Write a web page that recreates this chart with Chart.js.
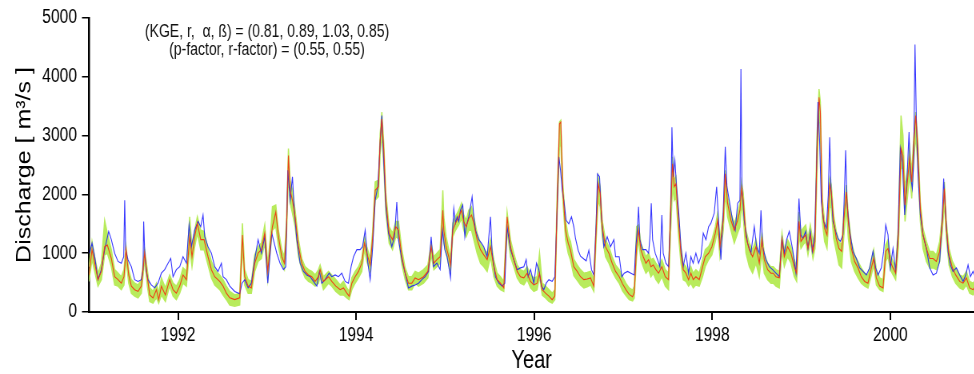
<!DOCTYPE html>
<html>
<head>
<meta charset="utf-8">
<script src="https://cdn.jsdelivr.net/npm/chart.js@4.4.1/dist/chart.umd.min.js"></script>
<style>
  html, body { margin: 0; padding: 0; background: #fff; }
  #wrap { width: 974px; height: 374px; overflow: hidden; }
  /* the original figure is horizontally compressed, so draw wide and squeeze */
  #flow-chart { transform: scaleX(0.8); transform-origin: 0 0; }
</style>
</head>
<body>
<div id="wrap"><canvas id="flow-chart" width="1218" height="374"></canvas></div>
<script>
// observed discharge (decimal year, m3/s)
let obsYears = [
  1991.007,1991.034,1991.064,1991.101,1991.139,1991.176,1991.221,1991.251,1991.288,1991.326,
  1991.363,1991.390,1991.401,1991.412,1991.438,1991.476,1991.513,1991.551,1991.588,1991.607,
  1991.614,1991.625,1991.644,1991.663,1991.700,1991.738,1991.775,1991.813,1991.850,1991.888,
  1991.918,1991.944,1991.981,1992.019,1992.056,1992.094,1992.124,1992.150,1992.187,1992.225,
  1992.255,1992.281,1992.300,1992.337,1992.375,1992.412,1992.449,1992.487,1992.506,1992.543,
  1992.581,1992.637,1992.693,1992.719,1992.749,1992.787,1992.824,1992.861,1992.899,1992.936,
  1992.974,1993.008,1993.053,1993.109,1993.146,1993.184,1993.210,1993.233,1993.259,1993.285,
  1993.308,1993.334,1993.371,1993.409,1993.446,1993.484,1993.521,1993.559,1993.588,1993.615,
  1993.652,1993.697,1993.727,1993.765,1993.802,1993.839,1993.877,1993.914,1993.944,1993.971,
  1994.008,1994.045,1994.072,1994.102,1994.132,1994.158,1994.184,1994.214,1994.244,1994.270,
  1994.289,1994.308,1994.334,1994.364,1994.401,1994.431,1994.457,1994.476,1994.514,1994.551,
  1994.588,1994.626,1994.663,1994.701,1994.738,1994.776,1994.813,1994.843,1994.869,1994.907,
  1994.944,1994.970,1994.996,1995.022,1995.041,1995.060,1995.078,1995.097,1995.116,1995.135,
  1995.153,1995.172,1995.198,1995.221,1995.236,1995.266,1995.303,1995.322,1995.341,1995.378,
  1995.408,1995.434,1995.472,1995.509,1995.528,1995.565,1995.603,1995.640,1995.670,1995.696,
  1995.734,1995.771,1995.809,1995.846,1995.884,1995.910,1995.932,1995.959,1995.996,1996.026,
  1996.052,1996.082,1996.108,1996.135,1996.165,1996.202,1996.232,1996.258,1996.277,1996.296,
  1996.315,1996.333,1996.359,1996.389,1996.419,1996.445,1996.464,1996.494,1996.520,1996.558,
  1996.584,1996.614,1996.644,1996.670,1996.696,1996.711,1996.734,1996.756,1996.782,1996.820,
  1996.857,1996.895,1996.914,1996.955,1996.985,1997.011,1997.049,1997.086,1997.124,1997.142,
  1997.161,1997.172,1997.187,1997.217,1997.255,1997.285,1997.300,1997.315,1997.330,1997.359,
  1997.386,1997.412,1997.434,1997.449,1997.479,1997.509,1997.535,1997.547,1997.562,1997.580,
  1997.599,1997.622,1997.648,1997.674,1997.704,1997.734,1997.760,1997.786,1997.816,1997.846,
  1997.873,1997.899,1997.929,1997.959,1997.985,1998.022,1998.049,1998.071,1998.097,1998.124,
  1998.146,1998.165,1998.191,1998.228,1998.258,1998.285,1998.311,1998.322,1998.333,1998.359,
  1998.397,1998.434,1998.472,1998.498,1998.528,1998.547,1998.566,1998.603,1998.641,1998.678,
  1998.715,1998.753,1998.783,1998.809,1998.835,1998.865,1998.903,1998.940,1998.974,1998.996,
  1999.019,1999.049,1999.075,1999.101,1999.124,1999.150,1999.169,1999.187,1999.206,1999.225,
  1999.251,1999.281,1999.303,1999.319,1999.334,1999.356,1999.386,1999.412,1999.438,1999.468,
  1999.487,1999.498,1999.513,1999.543,1999.581,1999.618,1999.656,1999.693,1999.731,1999.768,
  1999.805,1999.835,1999.862,1999.899,1999.925,1999.948,1999.974,2000.000,2000.030,2000.060,
  2000.086,2000.112,2000.135,2000.161,2000.187,2000.210,2000.225,2000.247,2000.262,2000.277,
  2000.292,2000.311,2000.337,2000.367,2000.405,2000.442,2000.480,2000.517,2000.554,2000.581,
  2000.599,2000.622,2000.648,2000.674,2000.704,2000.742,2000.779,2000.817,2000.847,2000.873,
  2000.899,2000.929,2000.950
];
let obsQ = [
  1000,1170,940,550,720,1060,1370,1230,1000,860,
  830,940,1900,1060,890,770,550,520,550,720,
  1540,1060,690,550,460,410,490,660,720,830,
  910,600,720,770,940,830,1480,1110,1390,1540,
  1450,1650,1280,1110,1000,770,690,830,600,550,
  440,350,310,490,550,410,490,890,1230,1000,
  1280,490,1340,1000,830,720,770,2410,1900,2300,
  1680,1230,830,690,630,600,520,440,690,490,
  550,660,600,630,600,660,520,490,770,940,
  1060,1060,1110,1390,830,550,1060,1900,2130,2860,
  3340,2640,1790,1340,1110,1280,1870,1230,890,660,
  410,440,460,490,550,600,690,1280,770,830,
  720,1390,1060,940,770,580,1230,1760,1510,1620,
  1540,1730,1820,1280,1450,1620,1960,1620,1390,1230,
  1170,1110,940,1620,1000,600,490,440,490,1450,
  1060,890,720,750,770,890,600,720,490,830,
  720,440,380,490,550,520,600,1730,2640,2410,
  2070,1900,1560,1500,1620,1450,1250,1050,950,900,
  870,1050,720,630,1510,2350,2300,1620,1110,1280,
  1110,1230,940,940,600,660,690,660,630,1110,
  1450,1790,1230,1060,1060,1000,1280,1850,1230,1000,
  890,770,1650,1000,830,770,1730,3140,2300,2580,
  2130,1730,1110,770,1000,660,940,830,1000,830,
  940,1340,1230,1450,1510,1680,2130,1560,890,1730,
  2810,2130,1900,1560,1390,1850,1900,4130,2130,1560,
  1170,1000,1450,1110,1000,1730,1110,890,770,720,
  660,600,1250,1000,1230,1370,1060,660,1930,1310,
  1250,1370,1080,1370,1030,1310,2330,3570,2890,1870,
  1540,1420,1990,2970,2100,1540,1370,1250,1200,1310,
  2160,2750,1870,1370,1030,910,750,690,630,750,
  1030,750,630,750,1030,1480,1310,750,1080,690,
  1310,2780,2550,1650,2270,3060,2330,2100,2550,4550,
  3280,2330,1650,1310,1080,750,630,660,860,1540,
  2270,1650,1030,800,690,750,630,520,630,800,
  600,690,620
];

// simulated best run and 95PPU band (decimal year, m3/s)
let simYears = [
  1991.000,1991.034,1991.064,1991.101,1991.139,1991.176,1991.206,1991.251,1991.288,1991.326,
  1991.363,1991.393,1991.416,1991.446,1991.476,1991.513,1991.551,1991.588,1991.625,1991.655,
  1991.682,1991.719,1991.757,1991.783,1991.813,1991.858,1991.906,1991.944,1991.981,1992.019,
  1992.056,1992.094,1992.131,1992.157,1992.187,1992.217,1992.255,1992.292,1992.337,1992.375,
  1992.412,1992.468,1992.506,1992.543,1992.581,1992.637,1992.693,1992.723,1992.749,1992.787,
  1992.824,1992.861,1992.899,1992.936,1992.974,1993.008,1993.034,1993.060,1993.098,1993.128,
  1993.165,1993.195,1993.218,1993.240,1993.259,1993.285,1993.315,1993.353,1993.390,1993.427,
  1993.465,1993.502,1993.540,1993.577,1993.596,1993.633,1993.690,1993.727,1993.772,1993.821,
  1993.858,1993.896,1993.922,1993.952,1993.989,1994.027,1994.064,1994.094,1994.120,1994.158,
  1994.184,1994.214,1994.251,1994.270,1994.289,1994.311,1994.334,1994.371,1994.409,1994.446,
  1994.476,1994.514,1994.551,1994.588,1994.626,1994.663,1994.701,1994.757,1994.806,1994.843,
  1994.873,1994.907,1994.944,1994.974,1994.985,1995.011,1995.041,1995.060,1995.086,1995.116,
  1995.153,1995.183,1995.209,1995.236,1995.266,1995.296,1995.322,1995.359,1995.397,1995.434,
  1995.472,1995.509,1995.547,1995.584,1995.621,1995.659,1995.696,1995.734,1995.771,1995.809,
  1995.846,1995.884,1995.921,1995.959,1995.996,1996.033,1996.060,1996.090,1996.127,1996.165,
  1996.202,1996.232,1996.258,1996.284,1996.299,1996.322,1996.352,1996.382,1996.408,1996.445,
  1996.483,1996.520,1996.558,1996.595,1996.633,1996.670,1996.696,1996.719,1996.741,1996.764,
  1996.801,1996.839,1996.876,1996.914,1996.955,1996.992,1997.030,1997.067,1997.105,1997.124,
  1997.150,1997.172,1997.198,1997.225,1997.255,1997.285,1997.311,1997.337,1997.367,1997.397,
  1997.434,1997.472,1997.509,1997.532,1997.554,1997.573,1997.592,1997.622,1997.648,1997.674,
  1997.704,1997.734,1997.760,1997.786,1997.816,1997.854,1997.891,1997.921,1997.959,1997.996,
  1998.034,1998.060,1998.086,1998.124,1998.146,1998.172,1998.210,1998.247,1998.285,1998.311,
  1998.330,1998.348,1998.378,1998.416,1998.453,1998.491,1998.528,1998.558,1998.584,1998.622,
  1998.659,1998.685,1998.715,1998.753,1998.783,1998.809,1998.846,1998.884,1998.921,1998.948,
  1998.974,1998.996,1999.019,1999.049,1999.075,1999.101,1999.131,1999.154,1999.176,1999.199,
  1999.214,1999.236,1999.262,1999.289,1999.319,1999.337,1999.363,1999.393,1999.423,1999.453,
  1999.476,1999.506,1999.528,1999.562,1999.599,1999.637,1999.674,1999.712,1999.749,1999.787,
  1999.813,1999.843,1999.880,1999.918,1999.948,1999.974,2000.000,2000.030,2000.060,2000.090,
  2000.120,2000.142,2000.165,2000.195,2000.217,2000.240,2000.262,2000.285,2000.307,2000.337,
  2000.367,2000.405,2000.442,2000.480,2000.517,2000.554,2000.584,2000.607,2000.629,2000.659,
  2000.697,2000.734,2000.779,2000.817,2000.854,2000.891,2000.929,2000.950
];
let simQ = [
  630,1060,830,550,690,1110,1140,910,600,550,
  490,600,1060,630,440,380,350,440,1000,600,
  290,240,380,210,440,290,550,380,320,440,
  630,550,1280,940,1280,1510,1230,1230,940,720,
  600,520,440,320,240,210,240,1310,600,440,
  410,830,1000,1060,1340,690,1110,1450,1700,1280,
  940,830,1390,2660,2070,1900,1620,1110,830,690,
  630,600,520,600,720,520,600,520,440,380,
  410,320,270,490,600,690,830,1170,1000,800,
  1230,2070,2130,2920,3280,2750,1900,1340,1230,1450,
  1390,940,660,490,490,580,550,600,690,1110,
  830,890,940,1730,1390,1110,940,800,1390,1510,
  1620,1730,1540,1450,1590,1650,1510,1230,1060,970,
  890,1110,770,550,490,410,1620,1110,890,690,
  600,580,660,520,460,490,660,380,320,270,
  210,270,1850,3200,3230,2070,1390,1170,1050,770,
  690,600,550,560,580,440,1390,2180,2020,1450,
  1110,1000,830,690,600,480,380,300,260,330,
  1110,1390,1060,940,830,890,770,800,720,660,
  770,600,550,1730,2520,2130,2180,1510,1000,720,
  660,550,660,550,600,550,770,940,1000,1110,
  1340,1560,1110,1560,2350,1850,1560,1390,1560,1730,
  2100,1900,1280,1060,940,1110,830,1230,890,720,
  660,660,600,580,1230,940,1110,1000,770,660,
  1540,1200,1250,1310,1080,1310,1030,1200,2720,3650,
  3400,1760,1420,1310,2160,2040,1540,1250,1080,1030,
  1540,2040,1540,1080,860,750,600,520,490,750,
  910,580,440,410,1030,1080,860,750,660,1310,
  2780,2660,1820,2270,2610,2210,2830,3340,2830,1760,
  1310,1080,910,910,860,1030,1540,2100,1420,970,
  750,630,520,490,580,410,380,420
];
let upperQ = [
  770,1200,940,660,830,1560,1340,1060,720,660,
  600,720,1110,720,550,490,460,550,1060,720,
  410,350,490,320,580,410,630,490,440,550,
  750,690,1620,1110,1390,1620,1390,1370,1080,860,
  720,630,550,440,350,290,320,1510,720,550,
  520,970,1110,1170,1480,800,1230,1790,1820,1390,
  1060,940,1560,2780,2240,2070,1730,1230,910,770,
  720,690,630,720,800,600,690,630,550,460,
  520,410,350,580,690,770,910,1280,1110,910,
  1340,2210,2240,3030,3400,2860,2020,1450,1340,1540,
  1540,1060,750,600,600,690,660,720,800,1170,
  940,1000,1060,2070,1620,1280,1060,910,1510,1620,
  1730,1850,1650,1560,1730,1790,1620,1340,1170,1080,
  1000,1230,890,660,600,520,1700,1230,1000,800,
  720,690,770,630,580,600,1000,490,440,380,
  320,380,2020,3230,3260,2180,1560,1300,1200,900,
  800,720,660,670,690,550,1510,2300,2130,1560,
  1230,1110,940,800,720,600,490,410,370,440,
  1450,1480,1170,1060,940,1000,890,910,830,770,
  890,720,660,1850,2640,2240,2300,1620,1110,830,
  770,660,770,660,720,660,890,1060,1110,1230,
  1450,1680,1230,1680,2410,1960,1680,1510,1680,1850,
  2210,2020,1390,1170,1060,1230,940,1340,1000,830,
  770,770,720,690,1340,1060,1230,1110,890,770,
  1700,1370,1420,1480,1250,1480,1200,1370,3000,3790,
  3570,1930,1540,1420,2270,2160,1650,1370,1200,1140,
  1650,2160,1650,1200,970,860,750,660,630,890,
  1060,720,580,550,1140,1230,970,860,770,1480,
  3340,3000,2100,2440,2780,2380,2950,3400,2950,1870,
  1420,1200,1030,1030,970,1200,1650,2210,1540,1080,
  860,750,630,600,690,520,490,530
];
let lowerQ = [
  520,890,690,440,550,970,1000,770,460,440,
  380,460,890,490,320,270,240,320,890,440,
  180,150,240,150,290,180,440,270,210,320,
  490,440,1080,770,1110,1340,1060,1060,800,580,
  460,380,290,210,120,100,120,1110,460,320,
  320,690,860,910,1170,550,1000,1390,1450,1110,
  830,720,1280,2350,1850,1680,1450,940,720,580,
  520,490,440,490,600,380,490,440,350,290,
  290,240,210,380,490,580,690,1060,860,690,
  1110,1900,1960,2690,3030,2470,1680,1170,1060,1280,
  1250,800,550,380,380,490,440,490,580,970,
  720,770,830,1620,1170,1000,800,690,1280,1390,
  1480,1590,1390,1280,1390,1390,1230,1000,830,770,
  690,940,600,440,380,350,1390,940,770,580,
  490,460,550,410,350,380,600,290,240,180,
  150,210,1620,2810,2860,1900,1230,1000,880,620,
  540,460,410,430,460,350,1230,1900,1790,1280,
  940,830,690,580,490,360,280,210,190,240,
  940,1230,890,770,660,720,600,660,550,490,
  600,440,380,1340,2130,1900,1960,1280,830,550,
  520,440,490,410,460,440,600,770,890,970,
  1200,1390,940,1390,2020,1620,1390,1170,1340,1450,
  1850,1620,1000,770,660,830,600,1000,660,550,
  490,490,440,410,1030,770,940,830,600,520,
  1310,1080,1140,1200,970,1200,910,1080,2330,3400,
  3120,1540,1200,1080,1820,1760,1250,1030,800,750,
  1250,1760,1250,860,690,580,490,440,410,630,
  800,460,380,350,860,940,720,630,550,1080,
  2440,2440,1540,1990,2330,1930,2550,3000,2550,1540,
  1080,860,750,750,720,860,1370,1870,1250,800,
  600,490,410,380,460,320,290,320
];

let tickYears = [1992, 1994, 1996, 1998, 2000];
let statsLines = [
  "(KGE, r,  \u03b1, \u00df) = (0.81, 0.89, 1.03, 0.85)",
  "(p-factor, r-factor) = (0.55, 0.55)"
];

let flowCtx = document.getElementById("flow-chart");

const plainFont = "'Liberation Sans', Arial, sans-serif";
const bandColor = '#B8EB5C';

toPoints = (xs, ys) => xs.map((x, i) => ({x: x, y: ys[i]}));

// draws the two fit statistic lines near the top left
const statsLabel = {
  id: 'statsLabel',
  afterDraw(chart) {
    const c = chart.ctx;
    const xs = chart.scales.x, ys = chart.scales.y;
    c.save();
    c.font = "17.5px " + plainFont;
    c.fillStyle = '#111';
    c.textAlign = 'center';
    c.textBaseline = 'middle';
    c.fillText(statsLines[0], xs.getPixelForValue(1993.0), ys.getPixelForValue(4750));
    c.fillText(statsLines[1], xs.getPixelForValue(1993.0), ys.getPixelForValue(4460));
    c.restore();
  }
};

let flowCfg = {
  type: 'line',
  data: {
    datasets: [
      {
        label: "95PPU lower",
        data: toPoints(simYears, lowerQ),
        borderColor: bandColor,
        borderWidth: 1.5,
        pointRadius: 0,
        fill: false,
        order: 3
      },
      {
        label: "95PPU upper",
        data: toPoints(simYears, upperQ),
        borderColor: bandColor,
        backgroundColor: bandColor,
        borderWidth: 1.5,
        pointRadius: 0,
        fill: 0,
        order: 2
      },
      {
        label: "Observed",
        data: toPoints(obsYears, obsQ),
        borderColor: 'rgba(20,20,255,0.85)',
        borderWidth: 1.1,
        pointRadius: 0,
        fill: false,
        order: 1
      },
      {
        label: "Simulated",
        data: toPoints(simYears, simQ),
        borderColor: 'rgba(245,45,15,0.9)',
        borderWidth: 1.1,
        pointRadius: 0,
        fill: false,
        order: 0
      }
    ]
  },
  options: {
    responsive: false,
    animation: false,
    layout: { padding: { left: 0, right: 0, top: 17, bottom: 0 } },
    elements: { line: { tension: 0 } },
    plugins: {
      legend: { display: false },
      tooltip: { enabled: false }
    },
    scales: {
      x: {
        type: 'linear',
        min: 1991,
        max: 2000.944,
        afterBuildTicks: (scale) => { scale.ticks = tickYears.map(v => ({value: v})); },
        afterFit: (scale) => { scale.height = 62; },
        ticks: {
          color: '#000',
          font: { family: plainFont, size: 19.5 },
          padding: 4,
          maxRotation: 0,
          autoSkip: false,
          callback: (v) => String(v)
        },
        grid: { display: true, drawOnChartArea: false, drawTicks: true, tickLength: 8, color: '#000', lineWidth: 2 },
        border: { display: true, color: '#000', width: 2 },
        title: {
          display: true,
          text: 'Year',
          color: '#000',
          font: { family: plainFont, size: 25 },
          padding: { top: 0, bottom: -2 }
        }
      },
      y: {
        min: 0,
        max: 5000,
        afterFit: (scale) => { scale.width = 111.25; },
        ticks: {
          stepSize: 1000,
          color: '#000',
          font: { family: plainFont, size: 19.5 },
          padding: 6.25,
          callback: (v) => String(v)
        },
        grid: { display: true, drawOnChartArea: false, drawTicks: true, tickLength: 8.75, color: '#000', lineWidth: 1.5 },
        border: { display: true, color: '#000', width: 2.5 },
        title: {
          display: true,
          text: 'Discharge [ m\u00b3/s ]',
          color: '#000',
          font: { family: plainFont, size: 25 },
          padding: { top: 16.3, bottom: 0 }
        }
      }
    }
  },
  plugins: [statsLabel]
};

let flowChart = new Chart(flowCtx, flowCfg);
</script>
</body>
</html>
